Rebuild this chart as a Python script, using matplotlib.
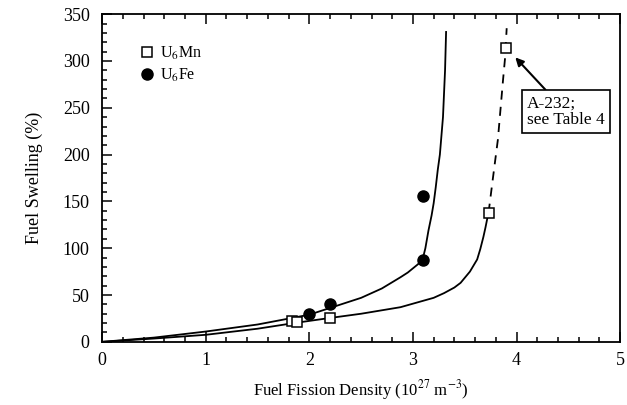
import matplotlib
matplotlib.use("Agg")
import matplotlib.pyplot as plt
from matplotlib.ticker import MultipleLocator

plt.rcParams["font.family"] = ["Liberation Serif", "DejaVu Serif"]
plt.rcParams["mathtext.fontset"] = "stix"

# ── measured points ──────────────────────────────────────────────────────────
mn_x = [1.83, 1.88, 2.2, 3.73, 3.9]
mn_y = [22, 21, 25.5, 138, 314]
fe_x = [2.0, 2.2, 3.1, 3.1]
fe_y = [30, 40, 156, 87]

# ── fitted curves ────────────────────────────────────────────────────────────
fe_fit_x = [0, 0.5, 1.0, 1.5, 2.0, 2.5, 2.7, 2.88, 2.95, 3.05, 3.1, 3.12,
            3.15, 3.18, 3.2, 3.22, 3.24, 3.26, 3.29, 3.31, 3.32]
fe_fit_y = [0, 4.5, 11, 18.5, 29, 47, 57, 69, 74, 83, 91, 100,
            119, 135, 148, 165, 184, 200, 240, 290, 331]
mn_fit_x = [0, 0.5, 1.0, 1.5, 1.85, 2.2, 2.5, 2.88, 3.2, 3.3, 3.4, 3.46,
            3.55, 3.62, 3.65, 3.68, 3.7, 3.72, 3.73]
mn_fit_y = [0, 3.5, 7.5, 14, 20, 25.5, 30, 37, 47, 52, 58, 63,
            75, 88, 99, 112, 122, 133, 138]
mn_dash_x = [3.73, 3.77, 3.82, 3.87, 3.89, 3.905]
mn_dash_y = [138, 173, 216, 280, 304, 335]

fig = plt.figure(figsize=(6.27, 4.05), dpi=100)
ax = fig.add_axes([0.163, 0.156, 0.826, 0.809])

ax.plot(fe_fit_x, fe_fit_y, color="black", lw=1.3)
ax.plot(mn_fit_x, mn_fit_y, color="black", lw=1.3)
ax.plot(mn_dash_x, mn_dash_y, color="black", lw=1.3, ls=(0, (5, 4)))

ax.plot(mn_x, mn_y, ls="none", marker="s", ms=7, mfc="white", mec="black",
        mew=1.1, label="U$_6$Mn", zorder=3)
ax.plot(fe_x, fe_y, ls="none", marker="o", ms=8, mfc="black", mec="black",
        label="U$_6$Fe", zorder=3)

ax.annotate("A-232;\nsee Table 4", xy=(3.97, 306), xytext=(4.1, 246),
            fontsize=12.5, ha="left", va="center", linespacing=1.0,
            bbox=dict(boxstyle="square,pad=0.3", fc="white", ec="black", lw=1.2),
            arrowprops=dict(arrowstyle="-|>", color="black", lw=1.5,
                            mutation_scale=12, shrinkA=0, shrinkB=2))

ax.set_xlim(0, 5)
ax.set_ylim(0, 350)
ax.xaxis.set_major_locator(MultipleLocator(1))
ax.xaxis.set_minor_locator(MultipleLocator(0.2))
ax.yaxis.set_major_locator(MultipleLocator(50))
ax.yaxis.set_minor_locator(MultipleLocator(10))
ax.tick_params(which="both", direction="in", top=True, right=False,
               labelsize=13, width=1.1)
ax.tick_params(which="major", length=7)
ax.tick_params(which="minor", length=3.5)
ax.tick_params(axis="x", pad=7)
ax.tick_params(axis="y", pad=9)
for s in ax.spines.values():
    s.set_linewidth(1.3)

ax.set_xlabel("Fuel Fission Density (10$^{27}$ m$^{-3}$)", fontsize=12, labelpad=7)
ax.set_ylabel("Fuel Swelling (%)", fontsize=13, labelpad=14)

ax.legend(loc="upper left", bbox_to_anchor=(0.04, 0.95), frameon=False,
          fontsize=11.5, handletextpad=0.2, labelspacing=0.3, handlelength=1.2)

fig.savefig("out.png", dpi=100)
